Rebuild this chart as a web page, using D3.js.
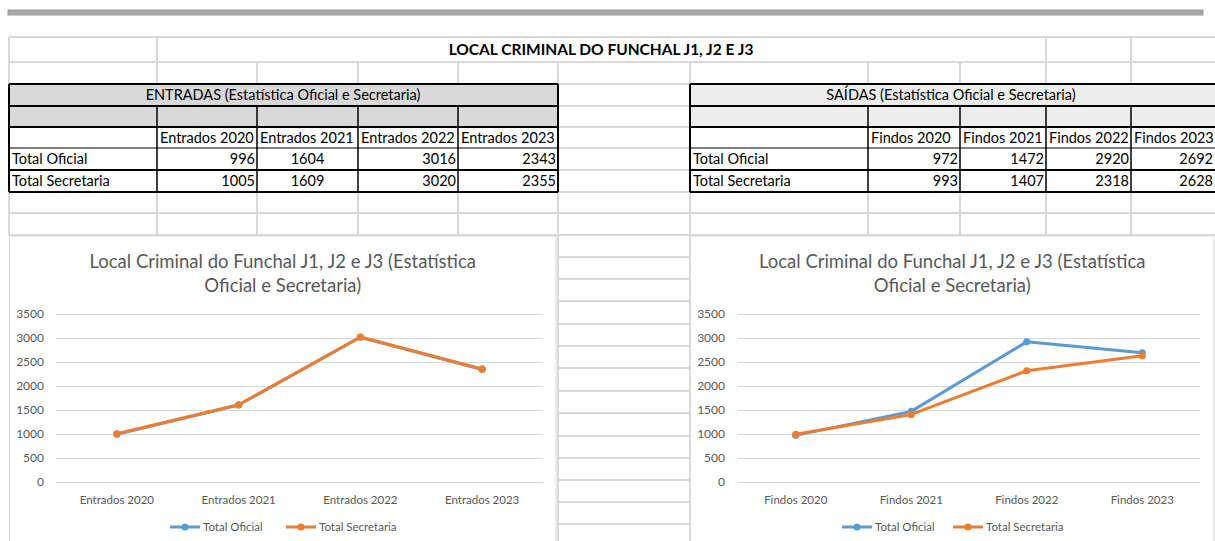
<!DOCTYPE html>
<html><head><meta charset="utf-8">
<script src="https://cdn.jsdelivr.net/npm/d3@7"></script>
<style>
html,body{margin:0;padding:0;background:#fff;}
svg{display:block;}
text{font-family:Lato,"Open Sans",sans-serif;}
</style></head>
<body>
<svg id="c" width="1215" height="541"></svg>
<script>
// ---- data ----
const sheetTitle = "LOCAL CRIMINAL DO FUNCHAL J1, J2 E J3";
const entradasHeader = "ENTRADAS (Estatística Oficial e Secretaria)";
const saidasHeader = "SAÍDAS (Estatística Oficial e Secretaria)";
const entradasCats = ["Entrados 2020", "Entrados 2021", "Entrados 2022", "Entrados 2023"];
const findosCats = ["Findos 2020", "Findos 2021", "Findos 2022", "Findos 2023"];
const seriesNames = ["Total Oficial", "Total Secretaria"];
const entradasOficial = [996, 1604, 3016, 2343];
const entradasSecretaria = [1005, 1609, 3020, 2355];
const findosOficial = [972, 1472, 2920, 2692];
const findosSecretaria = [993, 1407, 2318, 2628];
const yTicks = [0, 500, 1000, 1500, 2000, 2500, 3000, 3500];
const chartTitleLines = ["Local Criminal do Funchal J1, J2 e J3 (Estatística", "Oficial e Secretaria)"];

// ---- layout ----
const svg = d3.select("#c");
const W = 1215, H = 541;
const colors = ["#5B9BD5", "#ED7D31"];
const gridC = "#d9d9d9";
const rowY = [37, 62, 84, 106, 127, 148, 170, 192, 213, 235];
const colX = [9, 157, 257, 358, 458, 558, 690, 868, 960, 1046, 1131];
const midRows = [257, 279, 301, 324, 346, 368, 391, 413, 436, 458, 480, 502, 524];

// top bar
svg.append("rect").attr("x", 8).attr("y", 10).attr("width", 1195).attr("height", 5)
  .attr("fill", "#a9a9a9").attr("stroke", "#9c9c9c").attr("stroke-width", 1);

const grid = svg.append("g").attr("stroke", gridC).attr("stroke-width", 2).attr("fill", "none");
rowY.forEach(y => grid.append("line").attr("x1", 9).attr("x2", W).attr("y1", y).attr("y2", y));
[9, 157, 1046, 1131].forEach(x => grid.append("line").attr("x1", x).attr("x2", x).attr("y1", 37).attr("y2", 62));
colX.forEach(x => grid.append("line").attr("x1", x).attr("x2", x).attr("y1", 62).attr("y2", 235));
midRows.forEach(y => grid.append("line").attr("x1", 558).attr("x2", 690).attr("y1", y).attr("y2", y));
[558, 690].forEach(x => grid.append("line").attr("x1", x).attr("x2", x).attr("y1", 235).attr("y2", H));

// sheet title
svg.append("text").attr("x", 601).attr("y", 55).attr("text-anchor", "middle")
  .attr("font-weight", "bold").attr("font-size", 15.5).attr("fill", "#000").text(sheetTitle);

function table(x0, x1, cols, fill, header, cats, s1, s2, aligns) {
  const g = svg.append("g");
  g.append("rect").attr("x", x0).attr("y", 84).attr("width", x1 - x0).attr("height", 43).attr("fill", fill);
  g.append("rect").attr("x", x0).attr("y", 127).attr("width", x1 - x0).attr("height", 65).attr("fill", "#fff");
  const dark = (a, b, c, d, w) => g.append("line").attr("x1", a).attr("y1", b).attr("x2", c).attr("y2", d)
    .attr("stroke", "#000").attr("stroke-width", w);
  cols.forEach(x => dark(x, 106, x, 192, 1.5));
  dark(x0, 84, x0, 192, 2);
  if (x1 < W) dark(x1, 84, x1, 192, 2);
  [84, 106, 127, 170, 192].forEach(y => dark(x0, y, x1, y, 2));
  dark(x0, 148, x1, 148, 1);
  const fs = 14.5;
  g.append("text").attr("x", header.cx).attr("y", 100).attr("text-anchor", "middle")
    .attr("font-size", fs).text(header.text);
  const edges = [x0].concat(cols).concat([x1]);
  cats.forEach((c, i) => {
    g.append("text").attr("x", edges[i + 1] + 3).attr("y", 143).attr("font-size", fs).text(c);
  });
  [[seriesNames[0], s1, 164], [seriesNames[1], s2, 186]].forEach(([name, vals, y]) => {
    g.append("text").attr("x", x0 + 3).attr("y", y).attr("font-size", fs).text(name);
    vals.forEach((v, i) => {
      const l = edges[i + 1], r = Math.min(edges[i + 2], W);
      const a = aligns[i];
      g.append("text").attr("x", a === "middle" ? (l + r) / 2 : r - 2).attr("y", y)
        .attr("text-anchor", a).attr("font-size", fs).text(v);
    });
  });
}
table(9, 558, [157, 257, 358, 458], "#d9d9d9", {text: entradasHeader, cx: 283},
  entradasCats, entradasOficial, entradasSecretaria, ["end", "middle", "end", "end"]);
table(690, 1216, [868, 960, 1046, 1131], "#ededed", {text: saidasHeader, cx: 951},
  findosCats, findosOficial, findosSecretaria, ["end", "end", "end", "end"]);

function chart(box, cats, s1, s2) {
  const g = svg.append("g");
  g.append("rect").attr("x", box.x0).attr("y", 236).attr("width", box.x1 - box.x0).attr("height", H - 236 + 2)
    .attr("fill", "#fff").attr("stroke", gridC).attr("stroke-width", 1);
  const cx = (box.x0 + box.x1) / 2;
  chartTitleLines.forEach((t, i) => g.append("text").attr("x", cx).attr("y", 268 + i * 24)
    .attr("text-anchor", "middle").attr("font-size", 18.5).attr("font-weight", 400).attr("fill", "#595959").text(t));
  const x = d3.scaleBand().domain(cats).range([box.p0, box.p1]);
  const y = d3.scaleLinear().domain([0, 3500]).range([482, 314]);
  const gy = g.append("g").attr("transform", `translate(${box.p0},0)`)
    .call(d3.axisLeft(y).tickValues(yTicks).tickFormat(d3.format("d"))
      .tickSize(-(box.p1 - box.p0)).tickPadding(box.p0 - box.lab));
  gy.select(".domain").remove();
  gy.selectAll(".tick line").attr("stroke", gridC).attr("stroke-width", 1);
  gy.selectAll(".tick text").attr("fill", "#595959").attr("font-size", 12).attr("font-family", "Lato");
  const gx = g.append("g").attr("transform", "translate(0,482)")
    .call(d3.axisBottom(x).tickSize(0).tickPadding(14));
  gx.select(".domain").attr("stroke", gridC);
  gx.selectAll(".tick text").attr("fill", "#595959").attr("font-size", 11.5).attr("font-family", "Lato");
  const line = d3.line().x((d, i) => x(cats[i]) + x.bandwidth() / 2).y(d => y(d));
  [s1, s2].forEach((s, k) => {
    g.append("path").datum(s).attr("d", line).attr("fill", "none").attr("stroke", colors[k])
      .attr("stroke-width", 3).attr("stroke-linejoin", "round").attr("stroke-linecap", "round");
    g.selectAll(null).data(s).enter().append("circle")
      .attr("cx", (d, i) => x(cats[i]) + x.bandwidth() / 2).attr("cy", d => y(d)).attr("r", 3.6)
      .attr("fill", colors[k]);
  });
  box.leg.forEach((lx, k) => {
    const lg = g.append("g").attr("transform", `translate(${lx},527)`);
    lg.append("line").attr("x1", 0).attr("x2", 30).attr("stroke", colors[k]).attr("stroke-width", 3);
    lg.append("circle").attr("cx", 15).attr("r", 3.6).attr("fill", colors[k]);
    lg.append("text").attr("x", 33).attr("y", 4).attr("font-size", 11.5).attr("fill", "#595959").text(seriesNames[k]);
  });
}
chart({x0: 9.5, x1: 556, p0: 56, p1: 543, lab: 44, leg: [170, 286]}, entradasCats, entradasOficial, entradasSecretaria);
chart({x0: 690.5, x1: 1214, p0: 738, p1: 1200, lab: 725, leg: [842, 953]}, findosCats, findosOficial, findosSecretaria);
</script>
</body></html>
